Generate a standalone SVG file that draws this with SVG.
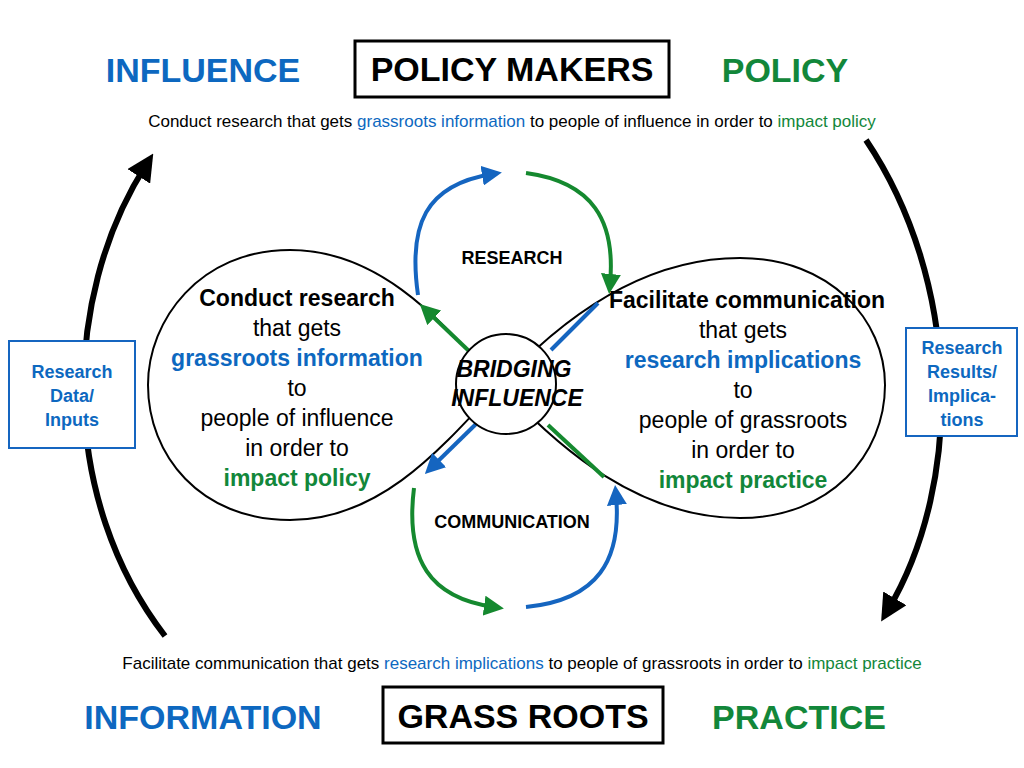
<svg xmlns="http://www.w3.org/2000/svg" width="1024" height="768" viewBox="0 0 1024 768">
<style>
text{font-family:"Liberation Sans",Arial,sans-serif;text-anchor:middle}
.big{font-size:34px;font-weight:bold}
.blue{fill:#0d68c0}.green{fill:#12873a}
.sub{font-size:17px}
.lobe{font-size:23px}
.b{font-weight:bold}
.bl{stroke:#1565c0;stroke-width:4;fill:none}
.gr{stroke:#15892f;stroke-width:4;fill:none}
.bk{stroke:#000;stroke-width:6;fill:none}
</style>
<defs>
<marker id="ab" viewBox="0 0 10 10" refX="5" refY="5" markerWidth="5" markerHeight="5" orient="auto" markerUnits="strokeWidth"><path d="M0,0L10,5L0,10z" fill="#1565c0"/></marker>
<marker id="ag" viewBox="0 0 10 10" refX="5" refY="5" markerWidth="5" markerHeight="5" orient="auto" markerUnits="strokeWidth"><path d="M0,0L10,5L0,10z" fill="#15892f"/></marker>
<marker id="ak" viewBox="0 0 10 10" refX="5" refY="5" markerWidth="4.5" markerHeight="4.5" orient="auto" markerUnits="strokeWidth"><path d="M0,0L10,5L0,10z" fill="#000"/></marker>
</defs>
<rect width="1024" height="768" fill="#fff"/>
<g id="connectors">
<path class="bk" d="M165,636 C60,500 60,300 146,165" marker-end="url(#ak)"/>
<path class="bk" d="M866,140 C960,280 965,480 888,610" marker-end="url(#ak)"/>
<path d="M500,385 C440,320 380,250 290,250 C200,250 148,320 148,385 C148,455 200,520 290,520 C380,520 440,450 500,385 C560,320 640,258 740,258 C830,258 885,320 885,385 C885,455 830,518 740,518 C640,518 560,450 500,385 Z" fill="none" stroke="#000" stroke-width="2"/>
<path class="bl" d="M418,295 C408,225 425,185 492,174" marker-end="url(#ab)"/>
<path class="gr" d="M526,173 C592,182 616,220 610,284" marker-end="url(#ag)"/>
<path class="gr" d="M470,352 L427,311" marker-end="url(#ag)"/>
<path class="bl" d="M551,350 L598,303"/>
<path class="bl" d="M476,424 L432,467" marker-end="url(#ab)"/>
<path class="gr" d="M548,425 L604,477"/>
<path class="gr" d="M414,488 C405,560 430,598 494,607" marker-end="url(#ag)"/>
<path class="bl" d="M526,607 C598,600 622,560 616,495" marker-end="url(#ab)"/>
</g>
<g id="center"><circle cx="506" cy="384" r="50" fill="#fff" stroke="#000" stroke-width="2"/>
<text x="514" y="377" font-size="23" font-weight="bold" font-style="italic">BRIDGING</text>
<text x="517" y="406" font-size="23" font-weight="bold" font-style="italic">INFLUENCE</text></g>
<g id="labels">
<text x="512" y="264" font-size="18" class="b">RESEARCH</text>
<text x="512" y="528" font-size="18" class="b">COMMUNICATION</text>
</g>
<g id="left-lobe" class="lobe">
<text x="297" y="306" class="b">Conduct research</text>
<text x="297" y="336">that gets</text>
<text x="297" y="366" class="b blue">grassroots information</text>
<text x="297" y="396">to</text>
<text x="297" y="426">people of influence</text>
<text x="297" y="456">in order to</text>
<text x="297" y="486" class="b green">impact policy</text>
</g>
<g id="right-lobe" class="lobe">
<text x="747" y="308" class="b">Facilitate communication</text>
<text x="743" y="338">that gets</text>
<text x="743" y="368" class="b blue">research implications</text>
<text x="743" y="398">to</text>
<text x="743" y="428">people of grassroots</text>
<text x="743" y="458">in order to</text>
<text x="743" y="488" class="b green">impact practice</text>
</g>
<g id="top">
<text x="203" y="82" class="big blue">INFLUENCE</text>
<rect x="355" y="41" width="314" height="56" fill="#fff" stroke="#000" stroke-width="3"/>
<text x="512" y="81" class="big" font-weight="normal">POLICY MAKERS</text>
<text x="785" y="82" class="big green">POLICY</text>
<text x="512" y="127" class="sub">Conduct research that gets <tspan class="blue">grassroots information</tspan> to people of influence in order to <tspan class="green">impact policy</tspan></text>
</g>
<g id="bottom">
<text x="522" y="669" class="sub">Facilitate communication that gets <tspan class="blue">research implications</tspan> to people of grassroots in order to <tspan class="green">impact practice</tspan></text>
<text x="203" y="729" class="big blue">INFORMATION</text>
<rect x="383" y="687" width="280" height="56" fill="#fff" stroke="#000" stroke-width="3"/>
<text x="523" y="728" class="big" font-weight="normal">GRASS ROOTS</text>
<text x="799" y="729" class="big green">PRACTICE</text>
</g>
<g id="left-box">
<rect x="9" y="341" width="126" height="107" fill="#fff" stroke="#1565c0" stroke-width="2"/>
<text x="72" y="378" font-size="18" class="b blue">Research</text>
<text x="72" y="402" font-size="18" class="b blue">Data/</text>
<text x="72" y="426" font-size="18" class="b blue">Inputs</text>
</g>
<g id="right-box">
<rect x="906" y="328" width="111" height="108" fill="#fff" stroke="#1565c0" stroke-width="2"/>
<text x="962" y="354" font-size="18" class="b blue">Research</text>
<text x="962" y="378" font-size="18" class="b blue">Results/</text>
<text x="962" y="402" font-size="18" class="b blue">Implica-</text>
<text x="962" y="426" font-size="18" class="b blue">tions</text>
</g>
</svg>
